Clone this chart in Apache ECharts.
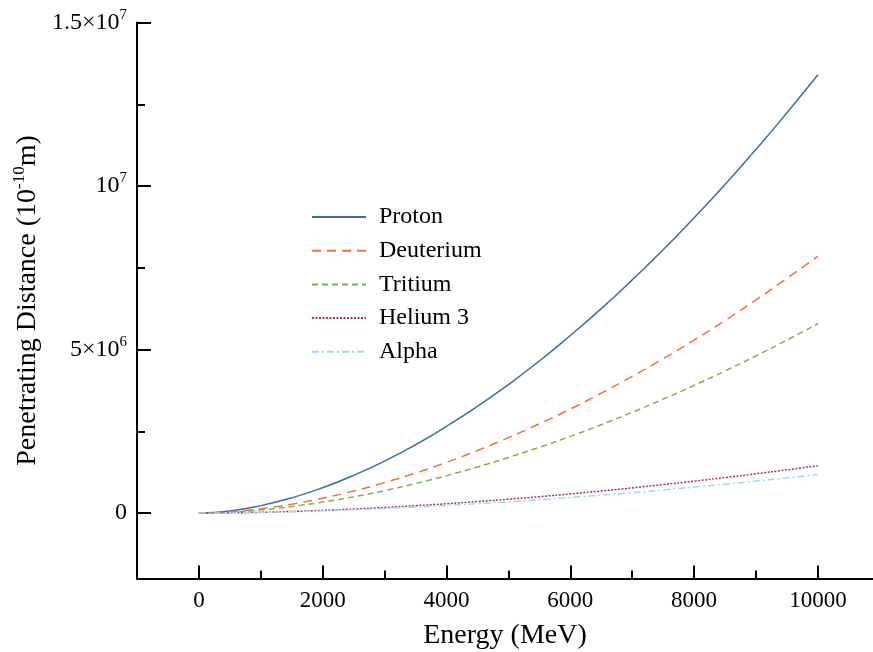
<!DOCTYPE html>
<html>
<head>
<meta charset="utf-8">
<script src="https://cdn.jsdelivr.net/npm/echarts@6/dist/echarts.min.js"></script>
<style>
  html, body { margin: 0; padding: 0; background: #fff; }
  #chart { width: 873px; height: 652px; }
</style>
</head>
<body>
<div id="chart"></div>
<script>
// Energy in MeV
const energy = [0, 500, 1000, 1500, 2000, 2500, 3000, 3500, 4000, 4500, 5000,
                5500, 6000, 6500, 7000, 7500, 8000, 8500, 9000, 9500, 10000];

// Penetrating distance in units of 1e-10 m
const proton    = [0, 66700, 228000, 466000, 776000, 1153000, 1590000, 2090000, 2650000, 3260000, 3930000,
                   4650000, 5430000, 6250000, 7130000, 8050000, 9030000, 10050000, 11120000, 12240000, 13400000];
const deuterium = [0, 39100, 133000, 273000, 455000, 676000, 932000, 1226000, 1552000, 1912000, 2306000,
                   2730000, 3180000, 3670000, 4180000, 4720000, 5290000, 5890000, 6520000, 7180000, 7850000];
const tritium   = [0, 28800, 98000, 202000, 336000, 498000, 688000, 904000, 1145000, 1409000, 1699000,
                   2011000, 2345000, 2702000, 3082000, 3483000, 3904000, 4346000, 4807000, 5289000, 5790000];
const helium3   = [0, 7200, 24500, 50500, 84000, 124500, 172000, 226000, 286000, 352000, 425000,
                   503000, 586000, 676000, 770000, 871000, 976000, 1087000, 1202000, 1322000, 1448000];
const alpha     = [0, 5900, 20000, 41000, 68200, 101300, 139800, 183800, 232800, 286800, 345600,
                   409200, 477000, 550000, 627000, 708000, 794000, 884000, 978000, 1077000, 1180000];

const seriesNames = ['Proton', 'Deuterium', 'Tritium', 'Helium 3', 'Alpha'];

const xLabelTicks = [0, 2000, 4000, 6000, 8000, 10000];
const xMinorTicks = [1000, 3000, 5000, 7000, 9000];
const yLabelTicks = [0, 5000000, 10000000, 15000000];
const yMinorTicks = [2500000, 7500000, 12500000];

// the x axis runs on past the right edge of the canvas
const X_MIN = -1000, X_MAX = 10890;
const Y_MIN = -2000000, Y_MAX = 15000000;

const FONT = "'Liberation Serif', 'Times New Roman', serif";

function yLabel(v) {
  if (v === 0) return '0';
  if (v === 5000000) return '5×10{s|6}';
  if (v === 10000000) return '10{s|7}';
  if (v === 15000000) return '1.5×10{s|7}';
  return '';
}

const pairs = arr => energy.map((e, i) => [e, arr[i]]);

const styles = [
  { color: '#3b6ca8', type: 'solid' },
  { color: '#ff6a3c', type: [9, 6] },
  { color: '#7fb24c', type: [6, 4] },
  { color: '#a3355a', type: [2, 1.5] },
  { color: '#a3d4ff', type: [7, 3, 2, 3] }
];
const dataSets = [proton, deuterium, tritium, helium3, alpha];

const chart = echarts.init(document.getElementById('chart'), null, { renderer: 'canvas' });
chart.setOption({
  animation: false,
  backgroundColor: '#fff',
  textStyle: { fontFamily: FONT },
  grid: { left: 137, right: 0, top: 22.5, height: 556, containLabel: false, outerBoundsMode: 'none' },
  legend: {
    orient: 'vertical',
    left: 306,
    top: 200,
    itemWidth: 54,
    itemHeight: 14,
    itemGap: 9.7,
    itemStyle: { opacity: 0 },
    data: seriesNames,
    textStyle: { fontFamily: FONT, fontSize: 24, color: '#000', lineHeight: 24, padding: [0, 0, 0, 8] }
  },
  xAxis: [
    {
      type: 'value', min: X_MIN, max: X_MAX, position: 'bottom',
      name: 'Energy (MeV)', nameLocation: 'middle', nameGap: 43, nameMoveOverlap: false,
      nameTextStyle: { fontFamily: FONT, fontSize: 28, color: '#000' },
      axisLine: { show: true, onZero: false, lineStyle: { color: '#000', width: 2 } },
      axisTick: { show: true, inside: true, length: 13, lineStyle: { color: '#000', width: 2 }, customValues: xLabelTicks },
      axisLabel: { show: true, customValues: xLabelTicks, formatter: v => String(v),
                   fontFamily: FONT, fontSize: 23, color: '#000', margin: 11 },
      splitLine: { show: false }
    },
    {
      type: 'value', min: X_MIN, max: X_MAX, position: 'bottom', offset: 0,
      axisLine: { show: false, onZero: false },
      axisTick: { show: true, inside: true, length: 8, lineStyle: { color: '#000', width: 2 }, customValues: xMinorTicks },
      axisLabel: { show: false },
      splitLine: { show: false }
    }
  ],
  yAxis: [
    {
      type: 'value', min: Y_MIN, max: Y_MAX, position: 'left',
      name: 'Penetrating Distance (10{s|-10}m)', nameLocation: 'middle', nameGap: 92, nameMoveOverlap: false,
      nameTextStyle: {
        fontFamily: FONT, fontSize: 28, color: '#000',
        rich: { s: { fontFamily: FONT, fontSize: 17, verticalAlign: 'top', color: '#000', lineHeight: 34 } }
      },
      axisLine: { show: true, onZero: false, lineStyle: { color: '#000', width: 2 } },
      axisTick: { show: true, inside: true, length: 14, lineStyle: { color: '#000', width: 2 }, customValues: yLabelTicks },
      axisLabel: {
        show: true, customValues: yLabelTicks, formatter: yLabel,
        fontFamily: FONT, fontSize: 24, color: '#000', margin: 10,
        rich: { s: { fontFamily: FONT, fontSize: 15, verticalAlign: 'top', color: '#000', lineHeight: 30 } }
      },
      splitLine: { show: false }
    },
    {
      type: 'value', min: Y_MIN, max: Y_MAX, position: 'left', offset: 0,
      axisLine: { show: false, onZero: false },
      axisTick: { show: true, inside: true, length: 8, lineStyle: { color: '#000', width: 2 }, customValues: yMinorTicks },
      axisLabel: { show: false },
      splitLine: { show: false }
    }
  ],
  series: seriesNames.map((name, i) => ({
    name: name,
    type: 'line',
    xAxisIndex: 0,
    yAxisIndex: 0,
    smooth: true,
    symbol: 'none',
    data: pairs(dataSets[i]),
    color: styles[i].color,
    lineStyle: { color: styles[i].color, width: 1.5, type: styles[i].type }
  }))
});
</script>
</body>
</html>
